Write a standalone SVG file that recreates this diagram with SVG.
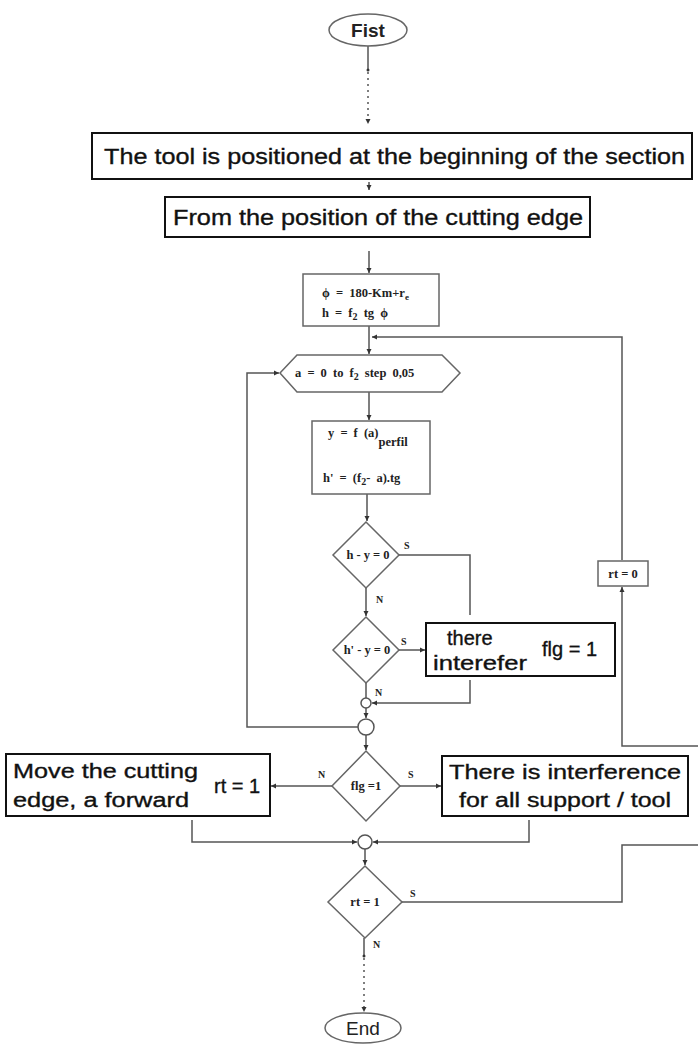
<svg xmlns="http://www.w3.org/2000/svg" width="698" height="1046" viewBox="0 0 698 1046">
<defs>
<marker id="ah" markerWidth="6" markerHeight="6" refX="5" refY="3" orient="auto" markerUnits="userSpaceOnUse">
<path d="M0,0.5 L5,3 L0,5.5 Z" fill="#333"/>
</marker>
<style>
.ln{fill:none;stroke:#555;stroke-width:1.5}
.dash{fill:none;stroke:#555;stroke-width:1.5;stroke-dasharray:2 4}
.bb{fill:#fff;stroke:#111;stroke-width:2}
.sb{fill:#fff;stroke:#666;stroke-width:1.5}
.big{font-family:"Liberation Sans",Arial,sans-serif;font-size:22px;fill:#111;stroke:#111;stroke-width:0.35}
.mid{font-family:"Liberation Sans",Arial,sans-serif;font-size:20px;fill:#111;stroke:#111;stroke-width:0.35}
.ser{font-family:"Liberation Serif","Times New Roman",serif;font-weight:bold;font-size:12.5px;fill:#222}
.ws{word-spacing:3px}
.dia{font-family:"Liberation Serif","Times New Roman",serif;font-weight:bold;font-size:12.5px;fill:#222;text-anchor:middle}
.lab{font-family:"Liberation Serif","Times New Roman",serif;font-weight:bold;font-size:10px;fill:#222}
</style>
</defs>
<rect width="698" height="1046" fill="#fff"/>

<g id="connectors">
<line class="ln" x1="368" y1="46" x2="368" y2="70"/>
<circle cx="368" cy="70" r="1.5" fill="#333"/>
<line class="dash" x1="368" y1="72" x2="368" y2="124" marker-end="url(#ah)"/>
<line class="ln" x1="369" y1="182" x2="369" y2="190" marker-end="url(#ah)"/>
<line class="ln" x1="369" y1="251" x2="369" y2="273" marker-end="url(#ah)"/>
<line class="ln" x1="369" y1="326" x2="369" y2="354" marker-end="url(#ah)"/>
<path class="ln" d="M622,560 V337 H372" marker-end="url(#ah)"/>
<line class="ln" x1="369" y1="392" x2="369" y2="420" marker-end="url(#ah)"/>
<line class="ln" x1="367" y1="494" x2="367" y2="521" marker-end="url(#ah)"/>
<path class="ln" d="M399,555 H470 V615"/>
<line class="ln" x1="366" y1="588" x2="366" y2="616" marker-end="url(#ah)"/>
<line class="ln" x1="399" y1="650" x2="425" y2="650" marker-end="url(#ah)"/>
<path class="ln" d="M470,680 V703 H372" marker-end="url(#ah)"/>
<line class="ln" x1="366" y1="683" x2="366" y2="698"/>
<line class="ln" x1="366" y1="708" x2="366" y2="718" marker-end="url(#ah)"/>
<path class="ln" d="M358,727 H247 V373 H279" marker-end="url(#ah)"/>
<line class="ln" x1="366" y1="735" x2="366" y2="750" marker-end="url(#ah)"/>
<line class="ln" x1="332" y1="786" x2="271" y2="786" marker-end="url(#ah)"/>
<line class="ln" x1="400" y1="786" x2="441" y2="786" marker-end="url(#ah)"/>
<path class="ln" d="M192,820 V842 H357" marker-end="url(#ah)"/>
<path class="ln" d="M529,820 V842 H373" marker-end="url(#ah)"/>
<line class="ln" x1="365" y1="849" x2="365" y2="865" marker-end="url(#ah)"/>
<path class="ln" d="M402,902 H622 V845 H698"/>
<path class="ln" d="M698,746 H622 V587" marker-end="url(#ah)"/>
<line class="ln" x1="364" y1="938" x2="364" y2="956"/>
<circle cx="364" cy="956" r="1.5" fill="#333"/>
<line class="dash" x1="364" y1="958" x2="364" y2="1012" marker-end="url(#ah)"/>
<text class="lab" x="404" y="549">S</text>
<text class="lab" x="376" y="603">N</text>
<text class="lab" x="401" y="645">S</text>
<text class="lab" x="375" y="696">N</text>
<text class="lab" x="318" y="778">N</text>
<text class="lab" x="408" y="778">S</text>
<text class="lab" x="410" y="897">S</text>
<text class="lab" x="373" y="948">N</text>
</g>

<g id="start">
<ellipse cx="368" cy="30" rx="39" ry="16" fill="#fff" stroke="#666" stroke-width="1.5"/>
<text x="368" y="37" text-anchor="middle" font-family="Liberation Sans,Arial,sans-serif" font-weight="bold" font-size="19" fill="#222">Fist</text>
</g>

<g id="box1">
<rect class="bb" x="92" y="133" width="600" height="46"/>
<text class="big" x="104" y="164" textLength="581" lengthAdjust="spacingAndGlyphs">The tool is positioned at the beginning of the section</text>
</g>

<g id="box2">
<rect class="bb" x="165" y="197" width="425" height="40"/>
<text class="big" x="173" y="225" textLength="410" lengthAdjust="spacingAndGlyphs">From the position of the cutting edge</text>
</g>

<g id="init">
<rect class="sb" x="303" y="274" width="136" height="52"/>
<text class="ser ws" x="322" y="297">ϕ = 180-Km+r<tspan font-size="9" dy="3">e</tspan></text>
<text class="ser ws" x="322" y="317">h = f<tspan font-size="10" dy="3">2</tspan><tspan dy="-3"> tg ϕ</tspan></text>
</g>

<g id="loop">
<polygon class="sb" points="280,373 297,355 442,355 460,373 442,392 297,392"/>
<text class="ser ws" x="295" y="377">a = 0 to f<tspan font-size="10" dy="3">2</tspan><tspan dy="-3">  step 0,05</tspan></text>
</g>

<g id="calc">
<rect class="sb" x="312" y="421" width="118" height="73"/>
<text class="ser ws" x="328" y="437">y = f (a)<tspan dy="9">perfil</tspan></text>
<text class="ser ws" x="323" y="482">h' = (f<tspan font-size="10" dy="3">2</tspan><tspan dy="-3">- a).tg</tspan></text>
</g>

<g id="dec1">
<polygon class="sb" points="366,522 399,555 366,588 333,555"/>
<text class="dia" x="368" y="559">h - y = 0</text>
</g>

<g id="dec2">
<polygon class="sb" points="366,617 399,650 366,683 333,650"/>
<text class="dia" x="367" y="654">h' - y = 0</text>
</g>

<g id="box5">
<rect class="bb" x="426" y="623" width="189" height="53"/>
<text class="mid" x="447" y="645">there</text>
<text class="mid" x="433" y="670" textLength="94" lengthAdjust="spacingAndGlyphs">interefer</text>
<text class="mid" x="542" y="656">flg = 1</text>
</g>

<g id="join1">
<circle cx="366" cy="703" r="5" fill="#fff" stroke="#555" stroke-width="1.5"/>
</g>
<g id="join2">
<circle cx="366" cy="727" r="8" fill="#fff" stroke="#555" stroke-width="1.5"/>
</g>

<g id="dec3">
<polygon class="sb" points="366,751 400,786 366,821 332,786"/>
<text class="dia" x="366" y="790" font-size="11.5">flg =1</text>
</g>

<g id="box6">
<rect class="bb" x="6" y="754" width="264" height="62"/>
<text class="mid" x="13" y="778" font-size="21" textLength="185" lengthAdjust="spacingAndGlyphs">Move the cutting</text>
<text class="mid" x="13" y="807" font-size="21" textLength="176" lengthAdjust="spacingAndGlyphs">edge, a forward</text>
<text class="mid" x="214" y="793" font-size="21">rt = 1</text>
</g>

<g id="box7">
<rect class="bb" x="442" y="756" width="246" height="60"/>
<text class="mid" x="565" y="779" font-size="21" text-anchor="middle" textLength="232" lengthAdjust="spacingAndGlyphs">There is interference</text>
<text class="mid" x="565" y="807" font-size="21" text-anchor="middle" textLength="212" lengthAdjust="spacingAndGlyphs">for all support / tool</text>
</g>

<g id="join3">
<circle cx="365" cy="842" r="7" fill="#fff" stroke="#555" stroke-width="1.5"/>
</g>

<g id="dec4">
<polygon class="sb" points="365,866 402,902 365,938 328,902"/>
<text class="dia" x="365" y="906">rt = 1</text>
</g>

<g id="rt0">
<rect class="sb" x="598" y="561" width="50" height="25"/>
<text class="dia" x="623" y="578">rt = 0</text>
</g>

<g id="end">
<ellipse cx="363" cy="1028" rx="38" ry="15" fill="#fff" stroke="#666" stroke-width="1.5"/>
<text x="363" y="1035" text-anchor="middle" font-family="Liberation Sans,Arial,sans-serif" font-size="19" fill="#222">End</text>
</g>
</svg>
